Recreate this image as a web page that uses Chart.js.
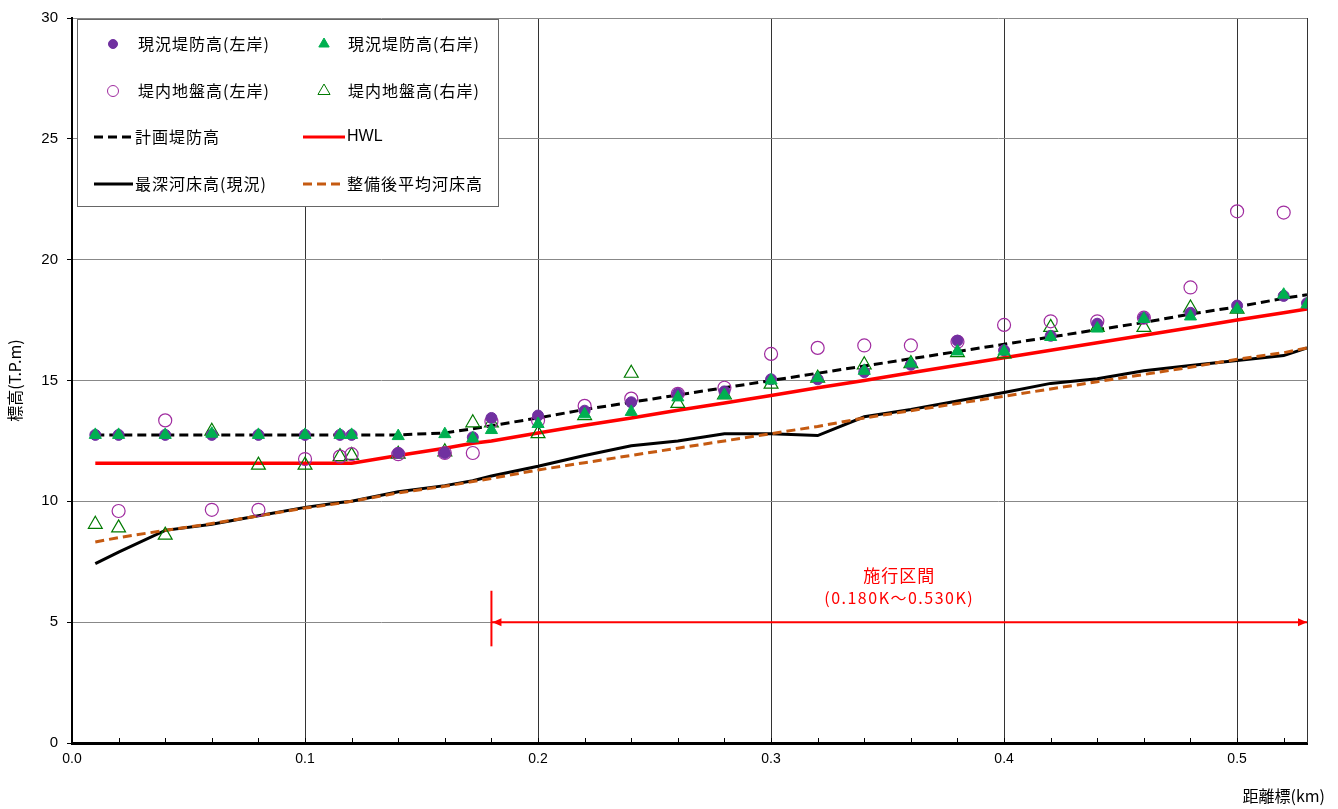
<!DOCTYPE html>
<html lang="ja">
<head>
<meta charset="utf-8">
<title>縦断図</title>
<script src="https://cdn.jsdelivr.net/npm/chart.js@4.4.1/dist/chart.umd.min.js"></script>
<style>
  html, body { margin: 0; padding: 0; background: #fff; }
  #wrap { width: 1338px; height: 809px; }
</style>
</head>
<body>
<div id="wrap"><canvas id="profileChart" width="1338" height="809"></canvas></div>
<script>
// stations (km) shared by every series
const distance = [0.01, 0.02, 0.04, 0.06, 0.08, 0.10, 0.115, 0.12, 0.14, 0.16, 0.172, 0.18, 0.20, 0.22, 0.24, 0.26, 0.28, 0.30, 0.32, 0.34, 0.36, 0.38, 0.40, 0.42, 0.44, 0.46, 0.48, 0.50, 0.52, 0.53];

// 現況堤防高 (left / right bank)
const leftLevee  = [12.75, 12.75, 12.75, 12.75, 12.75, 12.75, 12.75, 12.75, 12.0, 12.0, 12.65, 13.45, 13.55, 13.75, 14.1, 14.45, 14.55, 15.05, 15.05, 15.35, 15.65, 16.65, 16.25, 16.85, 17.35, 17.6, 17.8, 18.1, 18.5, 18.2];
const rightLevee = [12.75, 12.75, 12.75, 12.8, 12.75, 12.75, 12.75, 12.75, 12.7, 12.78, 12.6, 12.95, 13.2, 13.6, 13.7, 14.3, 14.4, 15.0, 15.1, 15.4, 15.7, 16.2, 16.2, 16.8, 17.15, 17.55, 17.65, 17.95, 18.55, 18.15];

// 堤内地盤高 (left / right bank)
const leftGround  = [null, 9.6, 13.35, 9.65, 9.65, 11.75, 11.85, 11.95, 11.95, 12.0, 12.0, 13.3, 13.35, 13.95, 14.25, 14.45, 14.7, 16.1, 16.35, 16.45, 16.45, 16.6, 17.3, 17.45, 17.45, 17.6, 18.85, 22.0, 21.95, null];
const rightGround = [9.05, 8.9, 8.6, 12.9, 11.5, 11.5, 11.85, 11.9, 11.95, 12.05, 13.25, 13.25, 12.8, 13.55, 15.3, 14.05, 14.4, 14.85, 15.1, 15.65, 15.7, 16.15, 16.1, 17.2, 17.2, 17.2, 18.0, 17.95, null, null];

// lines
const planLevee  = [12.75, 12.75, 12.75, 12.75, 12.75, 12.75, 12.75, 12.75, 12.75, 12.83, 13.0, 13.13, 13.45, 13.8, 14.1, 14.4, 14.7, 15.0, 15.3, 15.6, 15.9, 16.2, 16.5, 16.8, 17.1, 17.4, 17.75, 18.05, 18.4, 18.55];
const hwl        = [11.58, 11.58, 11.58, 11.58, 11.58, 11.58, 11.58, 11.58, 11.9, 12.2, 12.4, 12.5, 12.83, 13.15, 13.45, 13.77, 14.07, 14.38, 14.7, 15.0, 15.32, 15.63, 15.94, 16.25, 16.56, 16.87, 17.18, 17.5, 17.8, 17.96];
const deepestBed = [7.42, 7.9, 8.8, 9.05, 9.4, 9.75, 9.95, 10.0, 10.4, 10.65, 10.85, 11.05, 11.45, 11.9, 12.3, 12.5, 12.8, 12.8, 12.72, 13.5, 13.8, 14.15, 14.5, 14.88, 15.07, 15.4, 15.62, 15.83, 16.03, 16.35];
const plannedBed = [8.32, 8.5, 8.8, 9.08, 9.4, 9.72, 9.92, 10.0, 10.35, 10.62, 10.82, 10.95, 11.3, 11.6, 11.9, 12.2, 12.5, 12.8, 13.1, 13.45, 13.75, 14.05, 14.35, 14.65, 14.95, 15.25, 15.55, 15.88, 16.15, 16.35];

// axes
const xTickValues = [0, 0.1, 0.2, 0.3, 0.4, 0.5];
const xMinorStep = 0.02;
const yTickValues = [0, 5, 10, 15, 20, 25, 30];

// 施行区間 annotation
const sectionFrom = 0.18;
const sectionTo = 0.53;
const sectionLevel = 5;
const sectionLabel = ["施行区間", "(0.180K～0.530K)"];

const JP = "'Noto Sans CJK JP', 'Noto Sans', sans-serif";

function pts(values) {
	return distance.map((d, i) => ({ x: d, y: values[i] })).filter(p => p.y !== null);
}

const series = [
	{ label: "現況堤防高(左岸)", data: pts(leftLevee), pointStyle: "circle", pointRadius: 5.5, backgroundColor: "#7030A0", borderColor: "#7030A0", borderWidth: 1, order: 2 },
	{ label: "現況堤防高(右岸)", data: pts(rightLevee), pointStyle: "triangle", pointRadius: 7, backgroundColor: "#00B050", borderColor: "#00B050", borderWidth: 1, order: 1 },
	{ label: "堤内地盤高(左岸)", data: pts(leftGround), pointStyle: "circle", pointRadius: 6.5, backgroundColor: "rgba(0,0,0,0)", borderColor: "#A02CA0", borderWidth: 1.2, order: 3 },
	{ label: "堤内地盤高(右岸)", data: pts(rightGround), pointStyle: "triangle", pointRadius: 8, backgroundColor: "rgba(0,0,0,0)", borderColor: "#007A00", borderWidth: 1.2, order: 4 },
	{ label: "計画堤防高", data: pts(planLevee), showLine: true, pointRadius: 0, borderColor: "#000", borderWidth: 3, borderDash: [9, 5], order: 5 },
	{ label: "HWL", data: pts(hwl), showLine: true, pointRadius: 0, borderColor: "#FF0000", borderWidth: 3.5, order: 6 },
	{ label: "最深河床高(現況)", data: pts(deepestBed), showLine: true, pointRadius: 0, borderColor: "#000", borderWidth: 3, order: 8 },
	{ label: "整備後平均河床高", data: pts(plannedBed), showLine: true, pointRadius: 0, borderColor: "#C55A11", borderWidth: 3, borderDash: [9, 5], order: 7 }
];

// draws minor ticks, right border, section arrow, legend box and x title
const decorations = {
	id: "decorations",
	afterDatasetsDraw(chart) {
		const { ctx, chartArea: area, scales: { x, y } } = chart;
		ctx.save();

		// right border of plot
		ctx.strokeStyle = "#333";
		ctx.lineWidth = 1;
		ctx.beginPath();
		ctx.moveTo(area.right + 0.5, area.top);
		ctx.lineTo(area.right + 0.5, area.bottom);
		ctx.stroke();

		// minor ticks on x axis (pointing inward)
		ctx.strokeStyle = "#000";
		for (let v = xMinorStep; v < x.max; v += xMinorStep) {
			const px = Math.round(x.getPixelForValue(v)) + 0.5;
			ctx.beginPath();
			ctx.moveTo(px, area.bottom);
			ctx.lineTo(px, area.bottom - 5);
			ctx.stroke();
		}

		// 施行区間 arrow
		const x0 = x.getPixelForValue(sectionFrom);
		const x1 = x.getPixelForValue(sectionTo);
		const ya = y.getPixelForValue(sectionLevel);
		ctx.strokeStyle = "#FF0000";
		ctx.fillStyle = "#FF0000";
		ctx.lineWidth = 2;
		ctx.beginPath();
		ctx.moveTo(x0, ya);
		ctx.lineTo(x1, ya);
		ctx.stroke();
		ctx.beginPath();
		ctx.moveTo(x0, y.getPixelForValue(6.3));
		ctx.lineTo(x0, y.getPixelForValue(4.0));
		ctx.stroke();
		ctx.beginPath();
		ctx.moveTo(x0 + 1, ya);
		ctx.lineTo(x0 + 10, ya - 4);
		ctx.lineTo(x0 + 10, ya + 4);
		ctx.closePath();
		ctx.fill();
		ctx.beginPath();
		ctx.moveTo(x1, ya);
		ctx.lineTo(x1 - 9, ya - 4);
		ctx.lineTo(x1 - 9, ya + 4);
		ctx.closePath();
		ctx.fill();
		ctx.textAlign = "center";
		ctx.textBaseline = "middle";
		const xm = (x0 + x1) / 2;
		ctx.font = "17px " + JP;
		ctx.letterSpacing = "1px";
		ctx.fillText(sectionLabel[0], xm, ya - 47);
		ctx.font = "16px " + JP;
		ctx.letterSpacing = "1.5px";
		ctx.fillText(sectionLabel[1], xm, ya - 24);
		ctx.letterSpacing = "0px";

		// legend box
		const bx = area.left + 5, by = area.top + 1, bw = 421, bh = 187;
		ctx.fillStyle = "#fff";
		ctx.fillRect(bx, by, bw, bh);
		ctx.strokeStyle = "#666";
		ctx.lineWidth = 1;
		ctx.strokeRect(bx + 0.5, by + 0.5, bw, bh);

		const cols = [{ mark: bx + 36, line0: bx + 17, line1: bx + 56, text: bx + 61 },
			{ mark: bx + 247, line0: bx + 226, line1: bx + 268, text: bx + 271 }];
		const rows = [by + 25, by + 72, by + 118, by + 165];
		ctx.textAlign = "left";
		series.forEach((ds, i) => {
			const c = cols[i % 2], r = rows[Math.floor(i / 2)];
			if (ds.showLine) {
				ctx.strokeStyle = ds.borderColor;
				ctx.lineWidth = 3;
				ctx.setLineDash(ds.borderDash || []);
				ctx.beginPath();
				ctx.moveTo(c.line0, r);
				ctx.lineTo(c.line1, r);
				ctx.stroke();
				ctx.setLineDash([]);
			} else {
				const rad = ds.pointRadius - 1;
				ctx.fillStyle = ds.backgroundColor;
				ctx.strokeStyle = ds.borderColor;
				ctx.lineWidth = 1;
				ctx.beginPath();
				if (ds.pointStyle === "circle") {
					ctx.arc(c.mark, r, rad, 0, Math.PI * 2);
				} else {
					ctx.moveTo(c.mark, r - rad);
					ctx.lineTo(c.mark + rad * 0.866, r + rad * 0.5);
					ctx.lineTo(c.mark - rad * 0.866, r + rad * 0.5);
					ctx.closePath();
				}
				ctx.fill();
				ctx.stroke();
			}
			ctx.fillStyle = "#000";
			if (ds.label === "HWL") {
				ctx.font = "16px 'Liberation Sans', Arial, sans-serif";
				ctx.letterSpacing = "0px";
			} else {
				ctx.font = "16px " + JP;
				ctx.letterSpacing = "1px";
			}
			ctx.fillText(ds.label, ds.showLine ? c.line1 + 2 : c.text, r);
		});
		ctx.letterSpacing = "0px";

		// x axis title
		ctx.fillStyle = "#000";
		ctx.font = "16px " + JP;
		ctx.textAlign = "right";
		ctx.fillText("距離標(km)", area.right + 18, 796);

		ctx.restore();
	}
};

new Chart(document.getElementById("profileChart"), {
	type: "scatter",
	data: { datasets: series },
	options: {
		responsive: false,
		animation: false,
		devicePixelRatio: 1,
		layout: { padding: { left: 0, top: 17, right: 31, bottom: 0 } },
		plugins: { legend: { display: false }, tooltip: { enabled: false } },
		scales: {
			x: {
				type: "linear",
				min: 0,
				max: 0.53,
				afterFit: (scale) => { scale.height = 66; },
				afterBuildTicks: (scale) => { scale.ticks = xTickValues.map(v => ({ value: v })); },
				ticks: {
					callback: (v) => Number(v).toFixed(1),
					font: { family: "'Liberation Sans Narrow', 'Liberation Sans', Arial, sans-serif", size: 14 },
					color: "#000",
					padding: 8,
					maxRotation: 0
				},
				grid: { color: "#333", lineWidth: 1, drawTicks: false },
				border: { color: "#000", width: 3 }
			},
			y: {
				min: 0,
				max: 30,
				afterFit: (scale) => { scale.width = 72; },
				afterBuildTicks: (scale) => { scale.ticks = yTickValues.map(v => ({ value: v })); },
				ticks: {
					font: { family: "'Liberation Sans', Arial, sans-serif", size: 15 },
					color: "#000",
					padding: 9
				},
				grid: { color: "#888", lineWidth: 1, tickLength: 5, tickColor: "#000" },
				border: { color: "#000", width: 2 },
				title: {
					display: true,
					text: "標高(T.P.m)",
					font: { family: JP, size: 16 },
					color: "#000",
					padding: 5
				}
			}
		}
	},
	plugins: [decorations]
});
</script>
</body>
</html>
